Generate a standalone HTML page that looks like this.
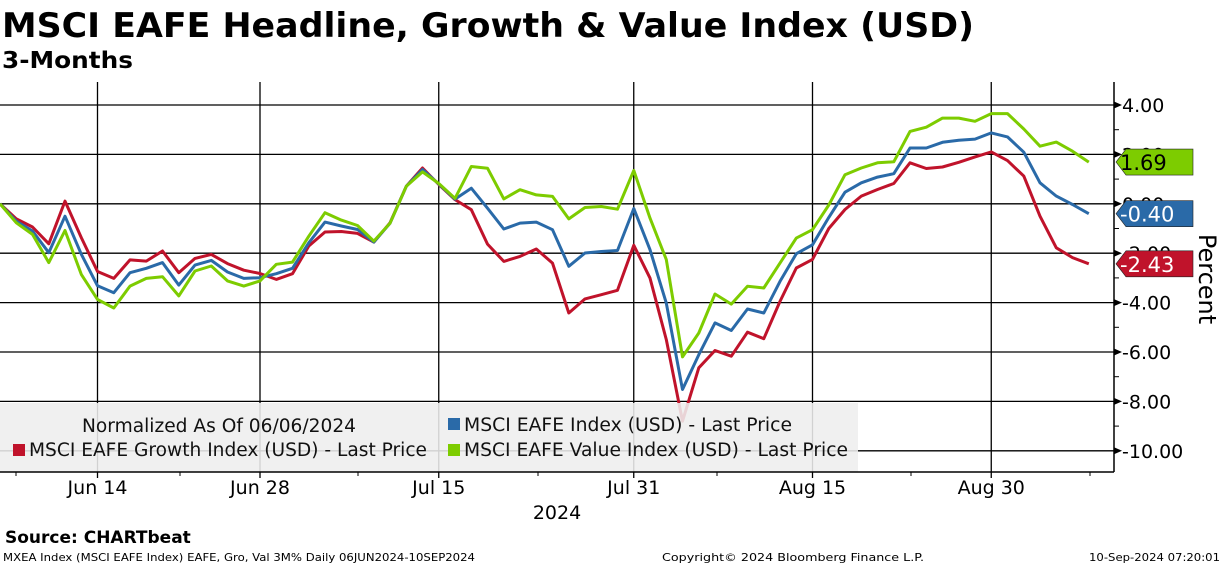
<!DOCTYPE html>
<html><head><meta charset="utf-8"><style>
html,body{margin:0;padding:0;background:#fff;}
svg{display:block;font-family:"DejaVu Sans","Liberation Sans",sans-serif;}
</style></head><body>
<svg id="chart" width="1224" height="566" viewBox="0 0 1224 566" xmlns="http://www.w3.org/2000/svg">
<text x="2" y="37" font-size="34" font-weight="bold" textLength="972" lengthAdjust="spacingAndGlyphs">MSCI EAFE Headline, Growth &amp; Value Index (USD)</text>
<text x="2" y="68" font-size="23" font-weight="bold" textLength="131" lengthAdjust="spacingAndGlyphs">3-Months</text>
<g id="grid"></g>
<g id="series"></g>
<g id="legend">
<rect x="0" y="403" width="858" height="69" fill="rgba(238,238,238,0.88)"/>
<text x="82" y="432" font-size="18.5" fill="#111" textLength="274" lengthAdjust="spacingAndGlyphs">Normalized As Of 06/06/2024</text>
<rect x="13" y="444" width="12" height="12" fill="#c0132b"/>
<text x="29" y="456" font-size="18.5" fill="#111" textLength="398" lengthAdjust="spacingAndGlyphs">MSCI EAFE Growth Index (USD) - Last Price</text>
<rect x="448" y="418" width="12" height="12" fill="#2a6aa8"/>
<text x="464" y="431" font-size="18.5" fill="#111" textLength="328" lengthAdjust="spacingAndGlyphs">MSCI EAFE Index (USD) - Last Price</text>
<rect x="448" y="444" width="12" height="12" fill="#7dcc00"/>
<text x="464" y="456" font-size="18.5" fill="#111" textLength="384" lengthAdjust="spacingAndGlyphs">MSCI EAFE Value Index (USD) - Last Price</text>
</g>
<g id="axes"></g>
<text transform="translate(1199,279) rotate(90)" text-anchor="middle" font-size="24">Percent</text>
<text x="557" y="519" text-anchor="middle" font-size="19">2024</text>
<text x="5" y="543" font-size="17" font-weight="bold">Source:  CHARTbeat</text>
<text x="3" y="561" font-size="11" textLength="472" lengthAdjust="spacingAndGlyphs">MXEA Index (MSCI EAFE Index) EAFE, Gro, Val 3M%  Daily 06JUN2024-10SEP2024</text>
<text x="662" y="561" font-size="11" textLength="262" lengthAdjust="spacingAndGlyphs">Copyright© 2024 Bloomberg Finance L.P.</text>
<text x="1220" y="561" font-size="11" text-anchor="end" textLength="131" lengthAdjust="spacingAndGlyphs">10-Sep-2024 07:20:01</text>
</svg>
<script>
var growth = [0,-0.61,-0.94,-1.62,0.11,-1.37,-2.74,-3.02,-2.27,-2.32,-1.91,-2.79,-2.21,-2.05,-2.42,-2.69,-2.82,-3.06,-2.83,-1.71,-1.14,-1.12,-1.20,-1.55,-0.77,0.71,1.45,0.78,0.17,-0.24,-1.63,-2.33,-2.13,-1.83,-2.40,-4.42,-3.85,-3.68,-3.50,-1.68,-3.01,-5.50,-8.80,-6.64,-5.94,-6.17,-5.20,-5.46,-3.95,-2.60,-2.25,-1.0,-0.23,0.31,0.58,0.82,1.66,1.43,1.49,1.68,1.90,2.10,1.75,1.12,-0.50,-1.78,-2.18,-2.43];
var eafe = [0,-0.70,-1.10,-1.98,-0.50,-2.04,-3.32,-3.60,-2.79,-2.61,-2.38,-3.29,-2.48,-2.29,-2.76,-3.02,-2.99,-2.83,-2.61,-1.58,-0.74,-0.90,-1.04,-1.55,-0.79,0.71,1.39,0.80,0.19,0.63,-0.18,-1.02,-0.78,-0.74,-1.05,-2.53,-1.99,-1.93,-1.89,-0.19,-1.86,-4.02,-7.52,-6.11,-4.82,-5.13,-4.26,-4.42,-3.14,-2.02,-1.66,-0.55,0.47,0.85,1.08,1.22,2.26,2.26,2.49,2.57,2.62,2.87,2.71,2.09,0.85,0.31,-0.03,-0.40];
var value = [0,-0.77,-1.24,-2.38,-1.08,-2.86,-3.87,-4.22,-3.33,-3.02,-2.95,-3.73,-2.72,-2.52,-3.12,-3.33,-3.12,-2.45,-2.36,-1.31,-0.36,-0.66,-0.88,-1.51,-0.79,0.71,1.29,0.82,0.22,1.51,1.44,0.20,0.57,0.36,0.30,-0.61,-0.15,-0.11,-0.22,1.35,-0.58,-2.26,-6.20,-5.23,-3.65,-4.06,-3.34,-3.41,-2.40,-1.39,-1.05,-0.05,1.18,1.45,1.66,1.70,2.93,3.10,3.47,3.47,3.34,3.65,3.65,3.03,2.33,2.50,2.13,1.69];
var yTicks = [4,2,0,-2,-4,-6,-8,-10];
var yTickLabels = ["4.00","2.00","0.00","-2.00","-4.00","-6.00","-8.00","-10.00"];
var xTickIdx = [6,16,27,39,50,61];
var xTickLabels = ["Jun 14","Jun 28","Jul 15","Jul 31","Aug 15","Aug 30"];
var lastLabels = ["1.69","-0.40","-2.43"];

var NS="http://www.w3.org/2000/svg";
var plotL=0, plotR=1114, plotT=82, plotB=472;
function xs(i){return i*16.25;}
function ys(v){return 203.8-v*24.7;}
function mk(tag,attrs,parent){var e=document.createElementNS(NS,tag);for(var k in attrs)e.setAttribute(k,attrs[k]);parent.appendChild(e);return e;}
var grid=document.getElementById('grid'), axes=document.getElementById('axes'), ser=document.getElementById('series');

yTicks.forEach(function(t,i){
  var l=mk('line',{x1:plotL,x2:plotR,y1:ys(t),y2:ys(t),stroke:'#000','stroke-width':1.3},grid);
  
  
  var a=mk('path',{d:'M'+plotR+','+(ys(t)-3.5)+' L'+(plotR+8)+','+ys(t)+' L'+plotR+','+(ys(t)+3.5)+'Z',fill:'#000'},axes);
  
  
  var tx=mk('text',{x:plotR+8,y:ys(t)+7,'font-size':19},axes);
  tx.textContent=yTickLabels[i];
  
  
  if(i<yTicks.length-1){
    var m=mk('line',{x1:plotR,x2:plotR+5,y1:ys(t-1),y2:ys(t-1),stroke:'#000','stroke-width':1},axes);
    
    
  }
});
xTickIdx.forEach(function(ix,i){
  var x=xs(ix);
  var l=mk('line',{x1:x,x2:x,y1:plotT,y2:plotB+6,stroke:'#000','stroke-width':1.3},grid);
  
  
  var tx=mk('text',{x:x,y:494,'text-anchor':'middle','font-size':19},axes);
  tx.textContent=xTickLabels[i];
  
  
});
[16,180,358,538,717,911,1090].forEach(function(x){
  var m=mk('line',{x1:x,x2:x,y1:plotB,y2:plotB+4,stroke:'#000','stroke-width':1},axes);
  
  
});
var ax1=mk('line',{x1:plotL,x2:plotR,y1:plotB,y2:plotB,stroke:'#000','stroke-width':1.5},axes);


var ax2=mk('line',{x1:plotR,x2:plotR,y1:plotT,y2:plotB,stroke:'#000','stroke-width':1.5},axes);



function drawLine(arr,color,name){
  var d=arr.map(function(v,i){return (i?'L':'M')+xs(i).toFixed(1)+','+ys(v).toFixed(1);}).join(' ');
  var p=mk('path',{d:d,fill:'none',stroke:color,'stroke-width':3,'stroke-linejoin':'round'},ser);
  
  
}
drawLine(growth,'#c0132b','line-growth');
drawLine(eafe,'#2a6aa8','line-eafe');
drawLine(value,'#7dcc00','line-value');

// move legend above lines
var svg=document.getElementById('chart');
svg.insertBefore(document.getElementById('legend'),axes);

function tag(v,color,txtColor,label,name){
  var y=ys(v);
  var g=mk('g',{},axes);
  
  
  mk('path',{d:'M'+(plotR+2)+','+y+' L'+(plotR+12)+','+(y-13)+' L1193,'+(y-13)+' L1193,'+(y+13)+' L'+(plotR+12)+','+(y+13)+'Z',fill:color,stroke:'#222','stroke-width':0.6},g);
  var t=mk('text',{x:1120,y:y+8,'font-size':21,fill:txtColor},g);
  t.textContent=label;
}
tag(value[value.length-1],'#7dcc00','#000',lastLabels[0],'last-value-tag-value');
tag(eafe[eafe.length-1],'#2a6aa8','#fff',lastLabels[1],'last-value-tag-eafe');
tag(growth[growth.length-1],'#c0132b','#fff',lastLabels[2],'last-value-tag-growth');
</script>
</body></html>
